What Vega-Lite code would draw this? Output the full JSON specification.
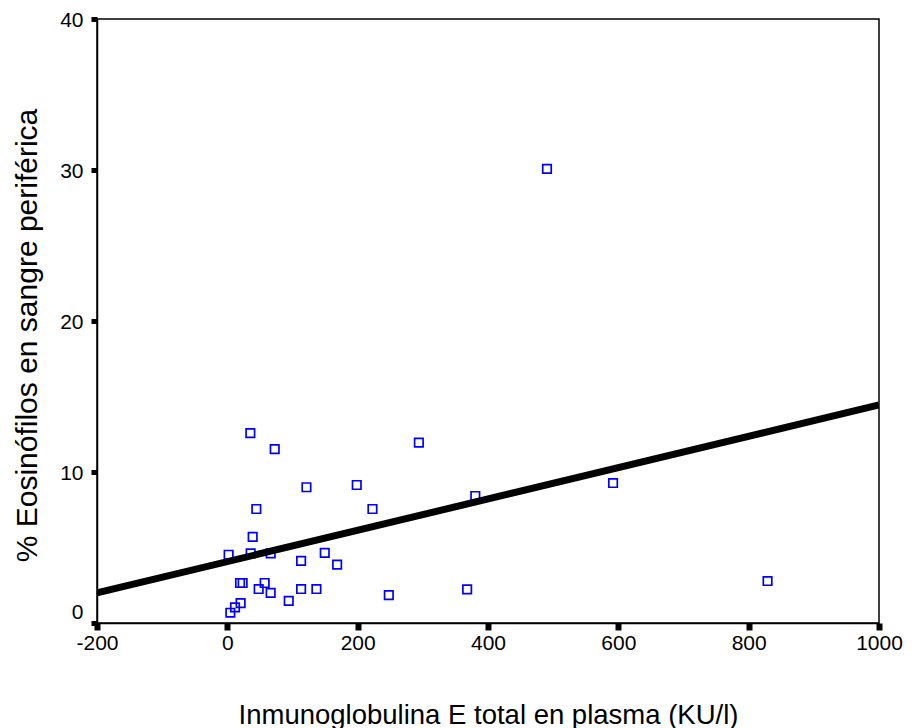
{
  "$schema": "https://vega.github.io/schema/vega-lite/v6.json",
  "autosize": {"type": "none"},
  "padding": {"left": 97, "top": 19, "right": 33, "bottom": 105},
  "width": 782,
  "height": 604,
  "background": "white",
  "config": {
    "view": {"stroke": "black", "strokeWidth": 1.5},
    "font": "Liberation Sans"
  },
  "datasets": {
    "pts": [
      {"ige": 35.3, "eos": 12.58},
      {"ige": 72.7, "eos": 11.52},
      {"ige": 293.9, "eos": 11.94},
      {"ige": 121.4, "eos": 8.99},
      {"ige": 198.6, "eos": 9.14},
      {"ige": 44.5, "eos": 7.55},
      {"ige": 222.7, "eos": 7.55},
      {"ige": 38.9, "eos": 5.7},
      {"ige": 2.0, "eos": 4.52},
      {"ige": 35.8, "eos": 4.61},
      {"ige": 66.5, "eos": 4.61},
      {"ige": 113.2, "eos": 4.11},
      {"ige": 149.5, "eos": 4.64},
      {"ige": 168.5, "eos": 3.86},
      {"ige": 19.5, "eos": 2.65},
      {"ige": 23.5, "eos": 2.65},
      {"ige": 57.3, "eos": 2.65},
      {"ige": 48.1, "eos": 2.25},
      {"ige": 66.5, "eos": 1.99},
      {"ige": 113.2, "eos": 2.25},
      {"ige": 136.7, "eos": 2.25},
      {"ige": 94.2, "eos": 1.46},
      {"ige": 247.8, "eos": 1.85},
      {"ige": 20.4, "eos": 1.32},
      {"ige": 11.8, "eos": 1.04},
      {"ige": 4.6, "eos": 0.68},
      {"ige": 490.5, "eos": 30.07},
      {"ige": 591.9, "eos": 9.27},
      {"ige": 380.5, "eos": 8.41},
      {"ige": 368.0, "eos": 2.23},
      {"ige": 829.0, "eos": 2.78}
    ],
    "fit": [
      {"ige": -200, "eos": 1.99},
      {"ige": 1000, "eos": 14.44}
    ]
  },
  "layer": [
    {
      "data": {"name": "pts"},
      "mark": {"type": "point", "shape": "square", "filled": false, "color": "#0000ff", "strokeWidth": 1.7, "size": 72, "opacity": 1},
      "encoding": {
        "x": {
          "field": "ige", "type": "quantitative",
          "scale": {"domain": [-200, 1000], "nice": false, "zero": false},
          "axis": {
            "values": [-200, 0, 200, 400, 600, 800, 1000],
            "labelExpr": "toString(datum.value)",
            "grid": false,
            "title": "Inmunoglobulina E total en plasma (KU/l)",
            "titleFont": "Liberation Sans", "titleFontSize": 27.5, "titleFontWeight": "normal", "titleColor": "black",
            "titlePadding": 48,
            "labelFont": "Liberation Sans", "labelFontSize": 21, "labelColor": "black", "labelPadding": 2,
            "labelFlush": false, "labelOverlap": false,
            "domainColor": "black", "domainWidth": 1.5,
            "tickColor": "black", "tickWidth": 6, "tickSize": 7
          }
        },
        "y": {
          "field": "eos", "type": "quantitative",
          "scale": {"domain": [0, 40], "nice": false, "zero": false},
          "axis": {
            "values": [0, 10, 20, 30, 40],
            "labelExpr": "toString(datum.value)",
            "grid": false,
            "title": "% Eosinófilos en sangre periférica",
            "titleFont": "Liberation Sans", "titleFontSize": 30, "titleFontWeight": "normal", "titleColor": "black",
            "titlePadding": 17,
            "titleY": 316,
            "labelFont": "Liberation Sans", "labelFontSize": 21, "labelColor": "black", "labelPadding": 8,
            "labelFlush": false, "labelOverlap": false,
            "labelOffset": {"condition": {"test": "datum.value == 0", "value": -11}, "value": 1},
            "domainColor": "black", "domainWidth": 1.5,
            "tickColor": "black", "tickWidth": 5, "tickSize": 6
          }
        }
      }
    },
    {
      "data": {"name": "fit"},
      "mark": {"type": "line", "color": "black", "strokeWidth": 7, "strokeCap": "butt", "clip": true},
      "encoding": {
        "x": {"field": "ige", "type": "quantitative"},
        "y": {"field": "eos", "type": "quantitative"}
      }
    }
  ]
}
